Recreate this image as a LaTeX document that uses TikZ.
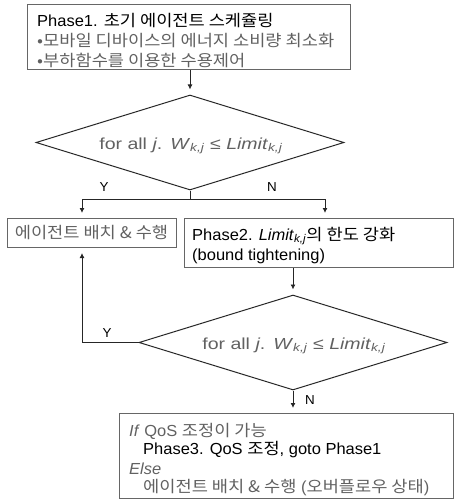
\documentclass[tikz,border=0pt]{standalone}
\usepackage{fontspec}
\setmainfont[FakeStretch=1.03]{Liberation Sans}
\newfontfamily\kr[FakeStretch=1.1]{Noto Sans CJK KR}
\newfontfamily\dlat[FakeStretch=1.22]{Liberation Sans}
\usetikzlibrary{shapes.geometric,arrows.meta,calc}
\definecolor{tx}{gray}{0.38}
\definecolor{ln}{gray}{0.15}
\newcommand{\K}[1]{{\kr\fontsize{16}{18}\selectfont #1}}
\newcommand{\Lkj}{\textit{Limit}\textsubscript{\textit{k,j}}}
\newcommand{\cond}{{\dlat for all \textit{j}.\hspace{8pt}\textit{W}\textsubscript{\textit{k,j}} ≤ \Lkj}}
\begin{document}
\begin{tikzpicture}[x=1pt,y=-1pt,
  box/.style={draw=black!60,line width=1pt,rectangle,anchor=north west,inner sep=0},
  dia/.style={draw=ln,line width=1pt,diamond,aspect=3.2,inner sep=0,minimum width=308pt,minimum height=95pt},
  txt/.style={anchor=west,inner sep=0,font=\fontsize{16}{18}\selectfont},
  dtxt/.style={anchor=center,inner sep=0,text=tx,font=\fontsize{16}{18}\selectfont},
  lt/.style={text=tx},
  dk/.style={text=black},
  lab/.style={inner sep=0,font=\fontsize{13}{15}\selectfont},
  arr/.style={draw=ln,line width=0.9pt,-{Latex[length=5pt,width=5pt]},shorten >=5pt},
  ln/.style={draw=ln,line width=0.9pt}]
\useasboundingbox (0,0) rectangle (455,500);
% Phase 1 box
\node[box,minimum width=323pt,minimum height=65pt] (p1) at (27,4) {};
\node[txt,dk] (p1a) at (37,21) {Phase1. \K{초기 에이전트 스케쥴링}};
\node[txt,lt] (p1b) at (37,41) {\K{•모바일 디바이스의 에너지 소비량 최소화}};
\node[txt,lt] (p1c) at (37,60) {\K{•부하함수를 이용한 수용제어}};
% diamond 1
\node[dia] (d1) at (190,142.5) {};
\node[dtxt] (d1t) at (191,146) {\cond};
% boxes row
\node[box,minimum width=169pt,minimum height=29pt] (lb) at (7,218) {};
\node[txt,lt,anchor=center] (lbt) at (91.5,233) {\K{에이전트 배치 \& 수행}};
\node[box,minimum width=269pt,minimum height=49pt] (p2) at (184,218) {};
\node[txt,dk] (p2a) at (192,236) {Phase2. \Lkj\K{의 한도 강화}};
\node[txt,dk] (p2b) at (192,256) {(bound tightening)};
% diamond 2
\node[dia] (d2) at (293,342.5) {};
\node[dtxt] (d2t) at (294,346) {\cond};
% bottom box
\node[box,minimum width=334pt,minimum height=85pt] (p3) at (119,413) {};
\node[txt,lt] (p3a) at (129,431) {\textit{If} QoS \K{조정이 가능}};
\node[txt,dk] (p3b) at (143,450) {Phase3. QoS \K{조정}, goto Phase1};
\node[txt,lt] (p3c) at (129,469) {\textit{Else}};
\node[txt,lt] (p3d) at (143,488) {\K{에이전트 배치 \& 수행} (\K{오버플로우 상태})};
% connectors
\draw[arr] (d1.north |- p1.south) -- (d1.north);
\coordinate (s) at (190,199);
\coordinate (yl) at (82,199);
\coordinate (nr) at (325,199);
\draw[ln] (d1.south) -- (s);
\draw[ln] (yl) -- (nr);
\draw[arr] (yl) -- (yl |- lb.north);
\draw[arr] (nr) -- (nr |- p2.north);
\node[lab] (ly1) at (104,187) {Y};
\node[lab] (ln1) at (272,187) {N};
\draw[arr] (d2.north |- p2.south) -- (d2.north);
\coordinate (lp) at (82,342.5);
\draw[arr] (d2.west) -- (lp) -- (lp |- lb.south);
\node[lab] (ly2) at (107,333) {Y};
\draw[arr] (d2.south) -- (d2.south |- p3.north);
\node[lab] (ln2) at (310,400) {N};
\end{tikzpicture}
\end{document}
